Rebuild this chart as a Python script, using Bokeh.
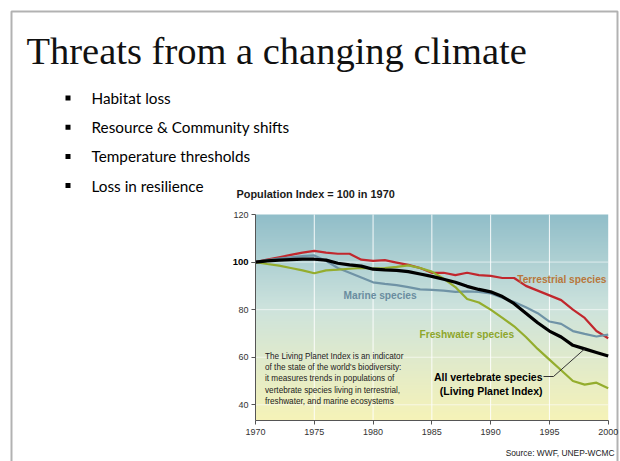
import numpy as np
from bokeh.plotting import figure
from bokeh.models import Range1d, Label, FixedTicker, LinearAxis, BoxAnnotation
from bokeh.embed import file_html
from bokeh.resources import INLINE

# ---------------- data ----------------
years = list(range(1970, 2001))
terrestrial = [100, 101, 102, 103, 104, 104.7, 104, 103.5, 103.5, 101, 100.5,
               100.8, 99.8, 98.8, 97.5, 95.5, 95.5, 94.5, 95.5, 94.5, 94.2,
               93.3, 93.3, 90, 88, 86, 84, 80, 76.5, 71, 68]
marine = [100, 100.8, 101.5, 102, 102.5, 102.8, 100.5, 97.5, 95.5, 93.5, 91.5,
          90.8, 90.3, 89.5, 88.5, 88.3, 88, 87.5, 87.7, 87.5, 86.8,
          85, 83.2, 81, 78.5, 75, 74, 71, 69.8, 68.7, 69.5]
freshwater = [100, 99.2, 98.5, 97.5, 96.5, 95.3, 96.5, 96.8, 97.2, 97.5, 97.3,
              97.5, 98, 98.6, 97.5, 96, 93, 89.5, 84.5, 83, 80,
              76.5, 73, 68.5, 63.5, 59, 54.5, 50, 48.5, 49.3, 47]
all_species = [100, 100.5, 100.8, 101, 101.2, 101.2, 100.8, 99.5, 98.8, 98.3, 97,
               96.7, 96.5, 96, 95, 94, 92.8, 91.5, 89.8, 88.5, 87.5,
               85.5, 82.5, 78.5, 74.5, 71, 68.5, 65, 63.5, 62, 60.5]
x_ticks = [1970, 1975, 1980, 1985, 1990, 1995, 2000]
y_ticks = [40, 60, 80, 100, 120]
bullets = ["Habitat loss", "Resource & Community shifts",
           "Temperature thresholds", "Loss in resilience"]
note_lines = ["The Living Planet Index is an indicator",
              "of the state of the world's biodiversity:",
              "it measures trends in populations of",
              "vertebrate species living in terrestrial,",
              "freshwater, and marine ecosystems"]

# ---------------- layout ----------------
W, H = 620, 461
X_MIN, X_MAX = 1970, 2000
Y_MIN, Y_MAX = 33.4, 120
CL, CT, CW, CH = 255, 214, 352.7, 206    # chart area in canvas px
XS = CW / (X_MAX - X_MIN)
YS = CH / (Y_MAX - Y_MIN)


def px(xp):
    return X_MIN + (xp - CL) / XS


def py(yp):
    return Y_MAX - (yp - CT) / YS


SANS = "Liberation Sans"

# one frame covering the whole slide; the chart's axes are fixed inside it
p = figure(width=W, height=H, output_backend="svg", toolbar_location=None,
           x_range=Range1d(px(0), px(W)), y_range=Range1d(py(H), py(0)),
           x_axis_type=None, y_axis_type=None, min_border=0)
p.outline_line_color = None
p.background_fill_color = "white"
p.border_fill_color = "white"

# gradient background of the chart area
n = 240
stops_t = [0.0, 0.55, 1.0]
stops_c = [(246, 243, 184), (205, 227, 221), (145, 190, 201)]
t = np.linspace(0, 1, n)
img = np.zeros((n, 1), dtype=np.uint32)
view = img.view(dtype=np.uint8).reshape((n, 1, 4))
for ch in range(3):
    view[:, 0, ch] = np.interp(t, stops_t, [c[ch] for c in stops_c]).astype(np.uint8)
view[:, 0, 3] = 255
p.image_rgba(image=[img], x=X_MIN, y=Y_MIN, dw=X_MAX - X_MIN, dh=Y_MAX - Y_MIN, level="image")

# white grid lines inside the chart area
gx = x_ticks[1:-1]
p.segment(x0=gx, y0=[Y_MIN] * len(gx), x1=gx, y1=[Y_MAX] * len(gx),
          line_color="white", line_alpha=0.9, line_width=1)
gy = y_ticks[:-1]
p.segment(x0=[X_MIN] * len(gy), y0=gy, x1=[X_MAX] * len(gy), y1=gy,
          line_color="white", line_alpha=0.6, line_width=1)


def style_axis(ax):
    ax.axis_line_color = "#555555"
    ax.major_tick_line_color = "#555555"
    ax.minor_tick_line_color = None
    ax.major_tick_in = 0
    ax.major_tick_out = 4
    ax.major_label_text_font = SANS
    ax.major_label_text_font_size = "9px"
    ax.major_label_text_color = "#333333"


xaxis = LinearAxis(fixed_location=Y_MIN, ticker=FixedTicker(ticks=x_ticks), bounds=(X_MIN, X_MAX))
style_axis(xaxis)
xaxis.major_label_standoff = 4
p.add_layout(xaxis, "below")

yaxis = LinearAxis(fixed_location=X_MIN, ticker=FixedTicker(ticks=y_ticks), bounds=(Y_MIN, Y_MAX))
style_axis(yaxis)
yaxis.major_label_standoff = 3
yaxis.major_label_overrides = {100: ""}
p.add_layout(yaxis, "left")

# bold "100" label at the same axis position
yaxis_b = LinearAxis(fixed_location=X_MIN, ticker=FixedTicker(ticks=[100]))
style_axis(yaxis_b)
yaxis_b.axis_line_color = None
yaxis_b.major_label_standoff = 3
yaxis_b.major_label_text_font_style = "bold"
yaxis_b.major_label_text_font_size = "9.5px"
yaxis_b.major_label_text_color = "black"
p.add_layout(yaxis_b, "left")

# series
p.line(years, terrestrial, line_color="#c1272d", line_width=2.2)
p.line(years, marine, line_color="#6f93a6", line_width=2.2)
p.line(years, freshwater, line_color="#94ad2d", line_width=2.2)
p.line(years, all_species, line_color="black", line_width=3.2)

# leader line from label to the index line
lead_i = years.index(1998)
p.line([px(543), px(553), years[lead_i]], [py(376), py(376), all_species[lead_i]],
       line_color="#333333", line_width=1)


def lab(xp, yp, text, color, align="left", size="10.2px", style="bold",
        font=SANS, baseline="middle"):
    p.add_layout(Label(x=px(xp), y=py(yp), text=text, text_align=align,
                       text_baseline=baseline, text_font=font, text_font_size=size,
                       text_font_style=style, text_color=color))


# labels inside the chart
lab(606, 279, "Terrestrial species", "#b8773b", align="right")
lab(343, 295, "Marine species", "#6a8da0")
lab(419, 333.5, "Freshwater species", "#8ea62c")
lab(542, 376, "All vertebrate species", "black", align="right", size="10.5px")
lab(542, 390, "(Living Planet Index)", "black", align="right", size="10.5px")
for i, line in enumerate(note_lines):
    lab(264.5, 355.5 + i * 11.4, line, "#222222", size="8.2px", style="normal")

lab(614, 452, "Source: WWF, UNEP-WCMC", "#222222", align="right", size="8.4px", style="normal")
lab(236, 193, "Population Index = 100 in 1970", "#1a1a1a", size="10.9px")

# slide title and bullets
lab(26, 50, "Threats from a changing climate", "#111111", size="38.5px", style="normal",
    font="Liberation Serif", baseline="alphabetic")
for i, b in enumerate(bullets):
    yc = 97.5 + i * 29.2
    lab(91, yc, b, "black", size="15.3px", style="normal", font="Lato")
    p.add_layout(BoxAnnotation(left=px(65), right=px(70), top=py(yc - 2.5), bottom=py(yc + 2.5),
                               fill_color="black", fill_alpha=1, line_color=None))

# slide border
p.add_layout(BoxAnnotation(left=px(11), right=px(617), top=py(11), bottom=py(H + 20),
                           fill_alpha=0, line_color="black", line_width=2))

open("out.html", "w").write(file_html(p, INLINE))
